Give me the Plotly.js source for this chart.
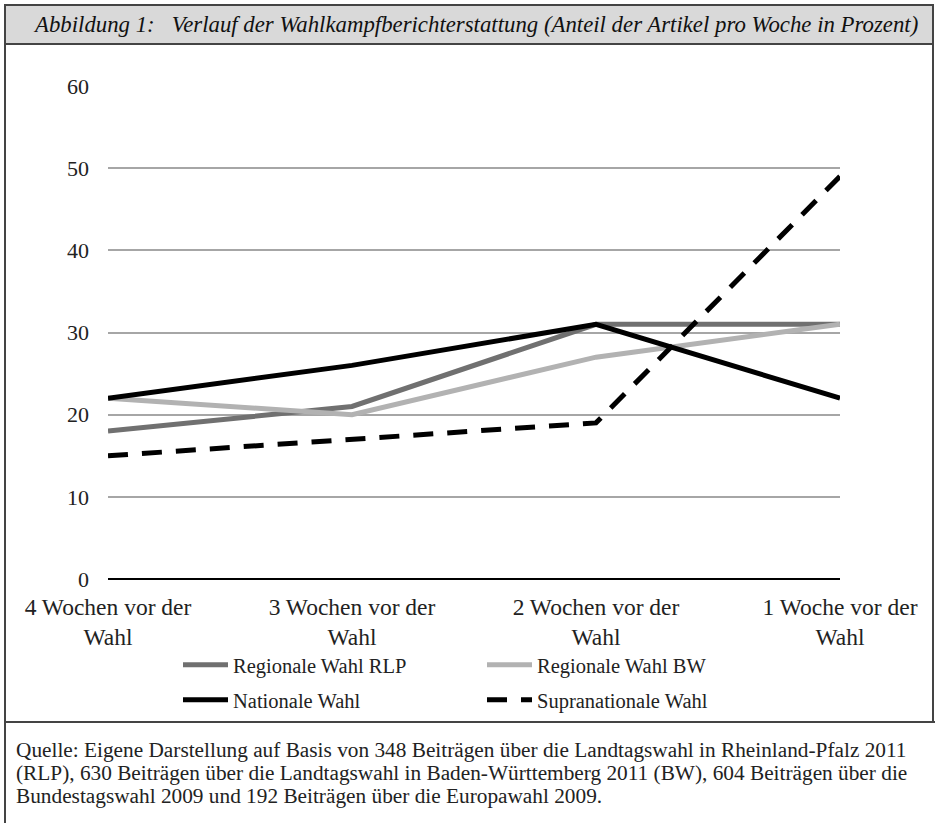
<!DOCTYPE html>
<html>
<head>
<meta charset="utf-8">
<script src="https://cdn.plot.ly/plotly-3.0.1.min.js"></script>
<style>html,body{margin:0;padding:0;background:#fff;}#chart{width:935px;height:823px;}</style>
</head>
<body>
<div id="chart"></div>
<script>
// ---- data ----
const categories = ["4 Wochen vor der<br>Wahl", "3 Wochen vor der<br>Wahl", "2 Wochen vor der<br>Wahl", "1 Woche vor der<br>Wahl"];
const rlp = [18, 21, 31, 31];
const bw = [22, 20, 27, 31];
const national = [22, 26, 31, 22];
const supranational = [15, 17, 19, 49];
const seriesNames = ["Regionale Wahl RLP", "Regionale Wahl BW", "Nationale Wahl", "Supranationale Wahl"];
const yTicks = [0, 10, 20, 30, 40, 50, 60];
const titleText = "Abbildung 1:   Verlauf der Wahlkampfberichterstattung (Anteil der Artikel pro Woche in Prozent)";
const footerLines = [
  "Quelle: Eigene Darstellung auf Basis von 348 Beiträgen über die Landtagswahl in Rheinland-Pfalz 2011",
  "(RLP), 630 Beiträgen über die Landtagswahl in Baden-Württemberg 2011 (BW), 604 Beiträgen über die",
  "Bundestagswahl 2009 und 192 Beiträgen über die Europawahl 2009."
];

const W = 935, H = 823;
const L = 108, R = 95, T = 86, B = 244;
const pw = W - L - R, ph = H - T - B;
const px = x => (x - L) / pw;
const py = y => (H - B - y) / ph;

const serif = "'Liberation Serif', 'Times New Roman', serif";
const xIdx = categories.map((c, i) => i);

const traces = [
  {x: xIdx, y: rlp, name: seriesNames[0], mode: "lines", line: {color: "#707070", width: 5}, legend: "legend"},
  {x: xIdx, y: bw, name: seriesNames[1], mode: "lines", line: {color: "#b2b2b2", width: 5}, legend: "legend"},
  {x: xIdx, y: national, name: seriesNames[2], mode: "lines", line: {color: "#000000", width: 5}, legend: "legend2"},
  {x: xIdx, y: supranational, name: seriesNames[3], mode: "lines", line: {color: "#000000", width: 5, dash: "20px,14px"}, legend: "legend2"}
];

const frameColor = "#444444";
const shapes = [
  {type: "rect", xref: "paper", yref: "paper", x0: px(5), x1: px(933), y0: py(5), y1: py(44),
   fillcolor: "#d9d9d9", line: {color: frameColor, width: 2}, layer: "below"},
  {type: "line", xref: "paper", yref: "paper", x0: px(5), x1: px(5), y0: py(5), y1: py(823), line: {color: frameColor, width: 2}},
  {type: "line", xref: "paper", yref: "paper", x0: px(933), x1: px(933), y0: py(5), y1: py(722), line: {color: frameColor, width: 2}},
  {type: "line", xref: "paper", yref: "paper", x0: px(5), x1: px(935), y0: py(722), y1: py(722), line: {color: frameColor, width: 2}}
];

const annotations = [
  {text: titleText, xref: "paper", yref: "paper", x: px(31), y: py(25), xanchor: "left", yanchor: "middle",
   showarrow: false, font: {family: serif, size: 22.8, color: "#111", style: "italic"}}
];
const footerY = [750, 773, 796];
footerLines.forEach((t, i) => annotations.push({
  text: t, xref: "paper", yref: "paper", x: px(14), y: py(footerY[i]), xanchor: "left", yanchor: "middle",
  showarrow: false, font: {family: serif, size: 21.3, color: "#222"}
}));

const layout = {
  width: W, height: H,
  margin: {l: L, r: R, t: T, b: B, pad: 0},
  paper_bgcolor: "#ffffff", plot_bgcolor: "#ffffff",
  font: {family: serif, size: 20, color: "#222"},
  showlegend: true,
  xaxis: {
    range: [0, 3], tickmode: "array", tickvals: xIdx, ticktext: categories,
    showgrid: false, zeroline: false, showline: false, ticks: "", ticklabelstandoff: 11,
    tickfont: {family: serif, size: 23.5, color: "#222"}, fixedrange: true
  },
  yaxis: {
    range: [0, 60], tickmode: "array", tickvals: yTicks,
    showgrid: true, gridcolor: "#a6a6a6", gridwidth: 2,
    zeroline: true, zerolinecolor: "#000000", zerolinewidth: 2,
    showline: false, ticks: "", ticklabelstandoff: 18,
    tickfont: {family: serif, size: 22, color: "#222"}, fixedrange: true
  },
  legend: {orientation: "h", xref: "paper", yref: "paper", x: px(178), y: py(665), xanchor: "left", yanchor: "middle",
    itemwidth: 45, entrywidth: 244, entrywidthmode: "pixels", font: {family: serif, size: 20.5, color: "#222"}, bgcolor: "rgba(0,0,0,0)", traceorder: "normal"},
  legend2: {orientation: "h", xref: "paper", yref: "paper", x: px(178), y: py(700), xanchor: "left", yanchor: "middle",
    itemwidth: 45, entrywidth: 244, entrywidthmode: "pixels", font: {family: serif, size: 20.5, color: "#222"}, bgcolor: "rgba(0,0,0,0)", traceorder: "normal"},
  shapes: shapes,
  annotations: annotations
};

Plotly.newPlot("chart", traces, layout, {staticPlot: true, displayModeBar: false});
</script>
</body>
</html>
